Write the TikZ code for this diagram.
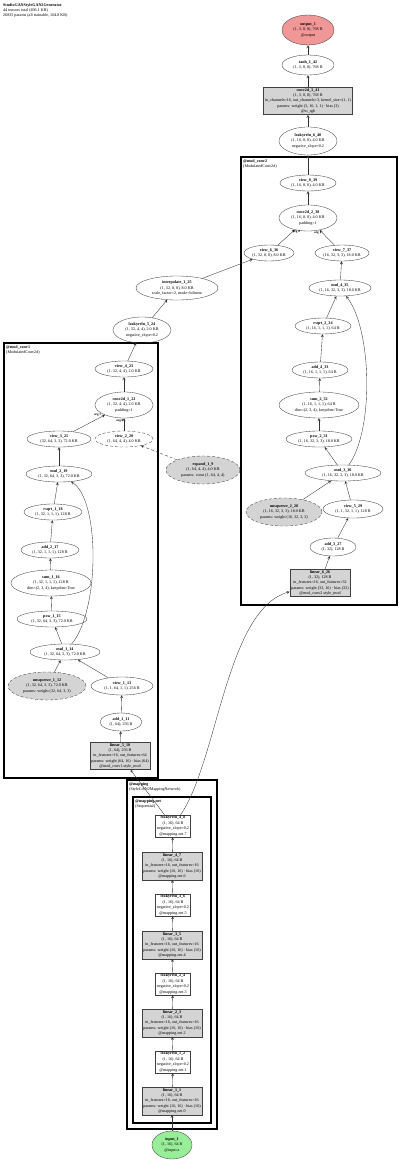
\documentclass[tikz,border=0pt]{standalone}
\usepackage{fontspec}
\setmainfont{Liberation Serif}
\usetikzlibrary{shapes.geometric}

\definecolor{outred}{HTML}{F29797}
\definecolor{ingreen}{HTML}{98EE98}
\definecolor{pargray}{HTML}{D4D4D4}

\newcommand\lab{\fontsize{4.1}{5.4}\selectfont}
\newcommand\elab{\fontsize{3.2}{3.8}\selectfont\bfseries}

\tikzset{
  op/.style 2 args={ellipse, draw=black!75, line width=0.35pt, minimum width=#1pt, minimum height=#2pt, inner sep=0pt, font=\lab, align=center},
  parop/.style 2 args={op={#1}{#2}, fill=pargray, densely dashed},
  modbox/.style={rectangle, draw=black!75, line width=0.35pt, fill=pargray, inner xsep=1.5pt, inner ysep=1pt, font=\lab, align=center},
  actbox/.style={modbox, fill=white},
  cluster/.style={draw=black, line width=1.8pt},
  clabel/.style={anchor=north west, inner sep=1pt, font=\lab, align=left},
  edge/.style={->, >=stealth, draw=black!80, line width=0.35pt},
  elab/.style={font=\elab, inner sep=0.5pt},
}

\begin{document}
\begin{tikzpicture}[x=1pt, y=-1pt]
  \useasboundingbox (0,0) rectangle (400,1161);

  % titel
  \node[clabel] (title) at (2,2) {\textbf{StudioGANStyleGAN2Generator}\\44 tensors total (496.1 KB)\\26835 params (all trainable, 104.8 KB)};

  % clusters
  \draw[cluster] (241,157) rectangle (397,605);
  \node[clabel] (lmc2) at (242,158) {\textbf{@mod\_conv2}\\(ModulatedConv2d)};
  \draw[cluster] (4,343) rectangle (158,778);
  \node[clabel] (lmc1) at (5,344) {\textbf{@mod\_conv1}\\(ModulatedConv2d)};
  \draw[cluster] (127,780) rectangle (217,1129);
  \node[clabel] (lmap) at (128,781) {\textbf{@mapping}\\(StyleGAN2MappingNetwork)};
  \draw[cluster, line width=1.1pt] (133,797) rectangle (211,1123);
  \node[clabel] (lnet) at (134,798) {\textbf{@mapping.net}\\(Sequential)};

  % top
  \node[op={52}{30}, fill=outred] (out1) at (308,30) {\textbf{output\_1}\\(1, 3, 8, 8), 768 B\\@output};
  \node[op={52}{20}] (tanh) at (308,65) {\textbf{tanh\_1\_42}\\(1, 3, 8, 8), 768 B};
  \node[modbox] (conv3) at (308,101) {\textbf{conv2d\_3\_41}\\(1, 3, 8, 8), 768 B\\in\_channels=16, out\_channels=3, kernel\_size=(1, 1)\\params: weight (3, 16, 1, 1) · bias (3)\\@to\_rgb};
  \node[op={58}{28}] (lr640) at (308,141) {\textbf{leakyrelu\_6\_40}\\(1, 16, 8, 8), 4.0 KB\\negative\_slope=0.2};

  % mod_conv2
  \node[op={56}{16}] (v839) at (308,183) {\textbf{view\_8\_39}\\(1, 16, 8, 8), 4.0 KB};
  \node[op={58}{26}] (c238) at (308,218) {\textbf{conv2d\_2\_38}\\(1, 16, 8, 8), 4.0 KB\\padding=1};
  \node[op={50}{16}] (v636) at (269,253) {\textbf{view\_6\_36}\\(1, 32, 8, 8), 8.0 KB};
  \node[op={54}{16}] (v737) at (342,253) {\textbf{view\_7\_37}\\(16, 32, 3, 3), 18.0 KB};
  \node[op={62}{16}] (m435) at (340,288) {\textbf{mul\_4\_35}\\(1, 16, 32, 3, 3), 18.0 KB};
  \node[op={56}{16}] (r234) at (323,326) {\textbf{rsqrt\_2\_34}\\(1, 16, 1, 1, 1), 64 B};
  \node[op={56}{16}] (add433) at (320,370) {\textbf{add\_4\_33}\\(1, 16, 1, 1, 1), 64 B};
  \node[op={80}{26}] (sum232) at (319,405) {\textbf{sum\_2\_32}\\(1, 16, 1, 1, 1), 64 B\\dim=(2, 3, 4), keepdim=True};
  \node[op={66}{16}] (pow231) at (319,439) {\textbf{pow\_2\_31}\\(1, 16, 32, 3, 3), 18.0 KB};
  \node[op={76}{16}] (m330) at (343,473) {\textbf{mul\_3\_30}\\(1, 16, 32, 3, 3), 18.0 KB};
  \node[parop={76}{28}] (unsq228) at (284,512) {\textbf{unsqueeze\_2\_28}\\(1, 16, 32, 3, 3), 18.0 KB\\params: weight (16, 32, 3, 3)};
  \node[op={60}{18}] (v529) at (353,509) {\textbf{view\_5\_29}\\(1, 1, 32, 1, 1), 128 B};
  \node[op={46}{18}] (add327) at (333,547) {\textbf{add\_3\_27}\\(1, 32), 128 B};
  \node[modbox] (lin626) at (320,583) {\textbf{linear\_6\_26}\\(1, 32), 128 B\\in\_features=16, out\_features=32\\params: weight (32, 16) · bias (32)\\@mod\_conv2.style\_mod};

  % between
  \node[op={82}{24}] (interp) at (177,288) {\textbf{interpolate\_1\_25}\\(1, 32, 8, 8), 8.0 KB\\scale\_factor=2, mode=bilinear};
  \node[op={58}{26}] (lr524) at (142,330) {\textbf{leakyrelu\_5\_24}\\(1, 32, 4, 4), 2.0 KB\\negative\_slope=0.2};
  \node[parop={74}{28}] (exp19) at (203,470) {\textbf{expand\_1\_9}\\(1, 64, 4, 4), 4.0 KB\\params: const (1, 64, 4, 4)};

  % mod_conv1
  \node[op={58}{16}] (v423) at (124,369) {\textbf{view\_4\_23}\\(1, 32, 4, 4), 2.0 KB};
  \node[op={58}{26}] (c122) at (124,405) {\textbf{conv2d\_1\_22}\\(1, 32, 4, 4), 2.0 KB\\padding=1};
  \node[op={64}{16}] (v321) at (59,439) {\textbf{view\_3\_21}\\(32, 64, 3, 3), 72.0 KB};
  \node[op={58}{16}, densely dashed] (v220) at (124,439) {\textbf{view\_2\_20}\\(1, 64, 4, 4), 4.0 KB};
  \node[op={66}{16}] (m219) at (59,474) {\textbf{mul\_2\_19}\\(1, 32, 64, 3, 3), 72.0 KB};
  \node[op={58}{16}] (r118) at (53,512) {\textbf{rsqrt\_1\_18}\\(1, 32, 1, 1, 1), 128 B};
  \node[op={58}{16}] (add217) at (50,550) {\textbf{add\_2\_17}\\(1, 32, 1, 1, 1), 128 B};
  \node[op={80}{26}] (sum116) at (51,583) {\textbf{sum\_1\_16}\\(1, 32, 1, 1, 1), 128 B\\dim=(2, 3, 4), keepdim=True};
  \node[op={70}{16}] (pow115) at (52,619) {\textbf{pow\_1\_15}\\(1, 32, 64, 3, 3), 72.0 KB};
  \node[op={70}{16}] (m114) at (65,652) {\textbf{mul\_1\_14}\\(1, 32, 64, 3, 3), 72.0 KB};
  \node[parop={78}{28}] (unsq112) at (47,686) {\textbf{unsqueeze\_1\_12}\\(1, 32, 64, 3, 3), 72.0 KB\\params: weight (32, 64, 3, 3)};
  \node[op={62}{18}] (v113) at (122,686) {\textbf{view\_1\_13}\\(1, 1, 64, 1, 1), 256 B};
  \node[op={42}{18}] (add111) at (121,722) {\textbf{add\_1\_11}\\(1, 64), 256 B};
  \node[modbox] (lin510) at (120,756) {\textbf{linear\_5\_10}\\(1, 64), 256 B\\in\_features=16, out\_features=64\\params: weight (64, 16) · bias (64)\\@mod\_conv1.style\_mod};

  % mapping
  \node[actbox] (lr48) at (173,826) {\textbf{leakyrelu\_4\_8}\\(1, 16), 64 B\\negative\_slope=0.2\\@mapping.net.7};
  \node[modbox] (lin47) at (172,866) {\textbf{linear\_4\_7}\\(1, 16), 64 B\\in\_features=16, out\_features=16\\params: weight (16, 16) · bias (16)\\@mapping.net.6};
  \node[actbox] (lr36) at (173,905) {\textbf{leakyrelu\_3\_6}\\(1, 16), 64 B\\negative\_slope=0.2\\@mapping.net.5};
  \node[modbox] (lin35) at (172,945) {\textbf{linear\_3\_5}\\(1, 16), 64 B\\in\_features=16, out\_features=16\\params: weight (16, 16) · bias (16)\\@mapping.net.4};
  \node[actbox] (lr24) at (173,984) {\textbf{leakyrelu\_2\_4}\\(1, 16), 64 B\\negative\_slope=0.2\\@mapping.net.3};
  \node[modbox] (lin23) at (172,1023) {\textbf{linear\_2\_3}\\(1, 16), 64 B\\in\_features=16, out\_features=16\\params: weight (16, 16) · bias (16)\\@mapping.net.2};
  \node[actbox] (lr12) at (173,1062) {\textbf{leakyrelu\_1\_2}\\(1, 16), 64 B\\negative\_slope=0.2\\@mapping.net.1};
  \node[modbox] (lin11) at (172,1101) {\textbf{linear\_1\_1}\\(1, 16), 64 B\\in\_features=16, out\_features=16\\params: weight (16, 16) · bias (16)\\@mapping.net.0};
  \node[op={40}{28}, fill=ingreen] (in1) at (172,1145) {\textbf{input\_1}\\(1, 16), 64 B\\@input.z};

  % edges mapping
  \draw[edge] (in1) -- (lin11);
  \draw[edge] (lin11) -- (lr12);
  \draw[edge] (lr12) -- (lin23);
  \draw[edge] (lin23) -- (lr24);
  \draw[edge] (lr24) -- (lin35);
  \draw[edge] (lin35) -- (lr36);
  \draw[edge] (lr36) -- (lin47);
  \draw[edge] (lin47) -- (lr48);
  \draw[edge] (lr48) -- (lin510);
  \draw[edge] (lr48) .. controls (218,760) and (226,610) .. (lin626);

  % edges mod_conv1
  \draw[edge] (lin510) -- (add111);
  \draw[edge] (add111) -- (v113);
  \draw[edge] (v113) -- (m114);
  \draw[edge] (unsq112) -- (m114);
  \draw[edge] (m114) -- (pow115);
  \draw[edge] (pow115) -- (sum116);
  \draw[edge] (sum116) -- (add217);
  \draw[edge] (add217) -- (r118);
  \draw[edge] (r118) -- (m219);
  \draw[edge] (m114) .. controls (100,610) and (100,500) .. (m219);
  \draw[edge] (m219) -- (v321);
  \draw[edge] (v321) -- (c122) node[elab, pos=0.9, above left] {arg 1};
  \draw[edge, densely dashed] (exp19) -- (v220);
  \draw[edge] (v220) -- (c122) node[elab, pos=0.8, left] {arg 0};
  \draw[edge] (c122) -- (v423);
  \draw[edge] (v423) -- (lr524);
  \draw[edge] (lr524) -- (interp);
  \draw[edge] (interp) -- (v636);

  % edges mod_conv2
  \draw[edge] (lin626) -- (add327);
  \draw[edge] (add327) -- (v529);
  \draw[edge] (v529) -- (m330);
  \draw[edge] (unsq228) -- (m330);
  \draw[edge] (m330) -- (pow231);
  \draw[edge] (pow231) -- (sum232);
  \draw[edge] (sum232) -- (add433);
  \draw[edge] (add433) -- (r234);
  \draw[edge] (r234) -- (m435);
  \draw[edge] (m330) .. controls (374,430) and (372,330) .. (m435);
  \draw[edge] (m435) -- (v737);
  \draw[edge] (v636) -- (c238) node[elab, pos=0.85, right] {arg 0};
  \draw[edge] (v737) -- (c238) node[elab, pos=0.85, left] {arg 1};
  \draw[edge] (c238) -- (v839);

  % edges top
  \draw[edge] (v839) -- (lr640);
  \draw[edge] (lr640) -- (conv3);
  \draw[edge] (conv3) -- (tanh);
  \draw[edge] (tanh) -- (out1);
\end{tikzpicture}
\end{document}
